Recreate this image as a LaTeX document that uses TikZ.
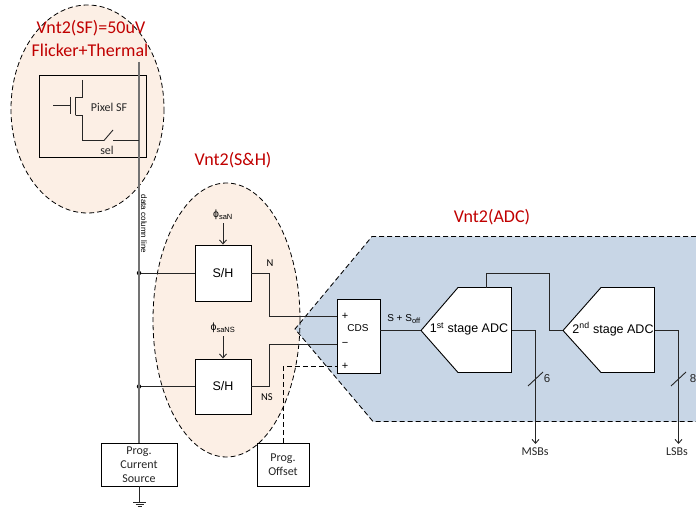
\documentclass[tikz,border=0pt]{standalone}
\usepackage{fontspec}
\setmainfont{Liberation Sans}
\newfontfamily\calfnt{Carlito}
\usetikzlibrary{arrows.meta}
\definecolor{peach}{HTML}{FCEFE5}
\definecolor{adcblue}{HTML}{C8D6E6}
\definecolor{redtxt}{HTML}{C00000}
\definecolor{wire}{HTML}{262626}
\tikzset{
  x=1pt,y=-1pt,
  wireline/.style={draw=wire,line width=0.9pt},
  grayline/.style={draw=black!55,line width=1.3pt},
  dashline/.style={draw=black,line width=0.85pt,dash pattern=on 5pt off 3pt},
  ell/.style={draw=black,line width=0.8pt,dash pattern=on 5pt off 3pt},
  redlabel/.style={text=redtxt,font=\calfnt\fontsize{18}{20}\selectfont,inner sep=0pt},
  block/.style={draw=black,fill=white,line width=0.9pt,inner sep=0pt,align=center},
  calsmall/.style={font=\calfnt\fontsize{12}{14}\selectfont,inner sep=0pt,align=center,text=black!85},
  arialsmall/.style={font=\fontsize{11}{12}\selectfont,inner sep=0pt},
  adctext/.style={font=\fontsize{12.5}{14}\selectfont,inner sep=0pt},
  dotnode/.style={circle,fill=black,inner sep=0pt,minimum size=4.5pt},
  arrowline/.style={wireline,-{Straight Barb[length=4pt,width=7pt]}},
}
\begin{document}
\begin{tikzpicture}
\useasboundingbox (0,0) rectangle (696,508);
% regions
\fill[peach] (87.5,109) ellipse [x radius=76.5,y radius=104];
\fill[peach] (226.5,320) ellipse [x radius=73.5,y radius=137];
\fill[adcblue] (696,236.5) -- (372,236.5) -- (295,329) -- (373,421.5) -- (696,421.5) -- cycle;
\draw[ell] (87.5,109) ellipse [x radius=76.5,y radius=104];
\draw[ell] (226.5,320) ellipse [x radius=73.5,y radius=137];
\draw[dashline] (696,236.5) -- (372,236.5) -- (295,329) -- (373,421.5) -- (696,421.5);
% labels
\node[redlabel] (t1) at (91,28) {Vnt2(SF)=50uV};
\node[redlabel] (t2) at (90,50) {Flicker+Thermal};
\node[redlabel] (t3) at (233,160) {Vnt2(S\&H)};
\node[redlabel] (t4) at (492,217) {Vnt2(ADC)};
% pixel
\node[draw=black,line width=0.9pt,minimum width=107pt,minimum height=82pt,inner sep=0pt] (pix) at (92.5,116) {};
\node[calsmall] (pixt) at (109,107.5) {Pixel SF};
\node[calsmall] (selt) at (107,150) {sel};
\coordinate (gatein) at (53,105.5);
\coordinate (gateend) at (70,105.5);
\draw[wireline] (gatein) -- (gateend);
\draw[wireline] (70.5,97) -- (70.5,114);
\draw[wireline] (75.5,97) -- (75.5,115);
\draw[wireline] (82.5,80) -- (82.5,97.5) -- (75.5,97.5);
\draw[wireline] (75.5,115.5) -- (82.5,115.5) -- (82.5,140.5) -- (104,140.5) -- (113,130);
\coordinate (swr) at (113,140.5);
% S/H etc.
\node[block,minimum width=56pt,minimum height=56pt,font=\fontsize{12.5}{14}\selectfont] (sh1) at (223,273) {S/H};
\node[block,minimum width=56pt,minimum height=55pt,font=\fontsize{12.5}{14}\selectfont] (sh2) at (223,386.5) {S/H};
\node[block,minimum width=76pt,minimum height=43pt,font=\calfnt\fontsize{12}{14}\selectfont,text=black!85] (cur) at (139,464.5) {Prog.\\Current\\Source};
\node[block,minimum width=52pt,minimum height=43pt,font=\calfnt\fontsize{12}{14.5}\selectfont,text=black!85] (off) at (283,464.5) {Prog.\\Offset};
\node[block,minimum width=43pt,minimum height=74pt] (cds) at (358.5,336) {};
\node[arialsmall,font=\fontsize{10}{11}\selectfont] (cdst) at (358,328) {CDS};
\node[arialsmall] (pl1) at (345,316.5) {+};
\node[arialsmall] (mi) at (345,344.5) {\textminus};
\node[arialsmall] (pl2) at (345,366.5) {+};
\node[arialsmall,font=\fontsize{10}{11}\selectfont] (sp) at (404,319) {S + S\textsubscript{\fontsize{7.5}{8}\selectfont off}};
\node[arialsmall,font=\calfnt\fontsize{10.5}{12}\selectfont] (nl) at (270,263) {N};
\node[arialsmall,font=\calfnt\fontsize{10.5}{12}\selectfont] (nsl) at (267,397) {NS};
\node[arialsmall,font=\fontsize{8}{10}\selectfont,rotate=-90] (dcl) at (144,224) {data column line};
\node[font=\fontsize{10.5}{11}\selectfont,inner sep=0pt] (p1) at (223,215) {ϕ\textsubscript{\fontsize{7.5}{8}\selectfont saN}};
\node[font=\fontsize{10.5}{11}\selectfont,inner sep=0pt] (p2) at (223,328) {ϕ\textsubscript{\fontsize{7.5}{8}\selectfont saNS}};
% ADC blocks
\draw[draw=black,fill=white,line width=0.9pt] (421,330.5) coordinate (a1in) -- (458,287.5) -- (486.5,287.5) coordinate (a1top) -- (511.5,287.5) -- (511.5,330.5) coordinate (a1out) -- (511.5,372.5) -- (458,372.5) -- cycle;
\draw[draw=black,fill=white,line width=0.9pt] (563,330.5) coordinate (a2in) -- (601,287.5) -- (654.5,287.5) -- (654.5,330.5) coordinate (a2out) -- (654.5,372.5) -- (601,372.5) -- cycle;
\node[adctext] (a1t) at (469,329) {1\textsuperscript{st} stage ADC};
\node[adctext] (a2t) at (613,329) {2\textsuperscript{nd} stage ADC};
% data line
\coordinate (dtop) at (139,62);
\node[dotnode] (d1) at (139,273) {};
\node[dotnode] (d2) at (139,386.5) {};
\draw[grayline] (dtop) -- (cur.north);
\draw[wireline] (swr) -- (139,140.5);
% wires
\draw[wireline] (d1) -- (sh1.west);
\draw[wireline] (d2) -- (sh2.west);
\draw[wireline] (sh1.east) -- (269.5,273) -- (269.5,316.5) -- (cds.west |- pl1);
\draw[wireline] (sh2.east) -- (269.5,386.5) -- (269.5,344.5) -- (cds.west |- mi);
\draw[dashline] (off.north) -- (283,366.5) -- (cds.west |- pl2);
\draw[arrowline] (p1.south -| sh1.north) ++(0,3) -- (sh1.north);
\draw[arrowline] (p2.south -| sh2.north) ++(0,3) -- (sh2.north);
\draw[wireline] (cds.east |- a1in) -- (a1in);
\draw[wireline] (a1top) -- (486.5,273.5) -- (549.5,273.5) -- (549.5,330.5) -- (a2in);
\node[calsmall] (msb) at (535,452) {MSBs};
\node[calsmall] (lsb) at (677,452) {LSBs};
\draw[arrowline] (a1out) -- (535.5,330.5) -- (535.5,444);
\draw[arrowline] (a2out) -- (678.5,330.5) -- (678.5,444);
\coordinate (s1a) at (528,386); \coordinate (s1b) at (543,372);
\coordinate (s2a) at (671,386); \coordinate (s2b) at (686,372);
\draw[wireline] (s1a) -- (s1b);
\draw[wireline] (s2a) -- (s2b);
\node[calsmall,font=\fontsize{11.5}{12}\selectfont] (n6) at (547,379) {6};
\node[calsmall,font=\fontsize{11.5}{12}\selectfont] (n8) at (693,379) {8};
% ground
\coordinate (gnd) at (139,502);
\draw[wireline] (cur.south) -- (gnd);
\draw[wireline] (133,502.5) -- (146,502.5);
\draw[wireline] (135.5,504.5) -- (143.5,504.5);
\draw[wireline] (137.5,506.5) -- (141.5,506.5);
\end{tikzpicture}
\end{document}
